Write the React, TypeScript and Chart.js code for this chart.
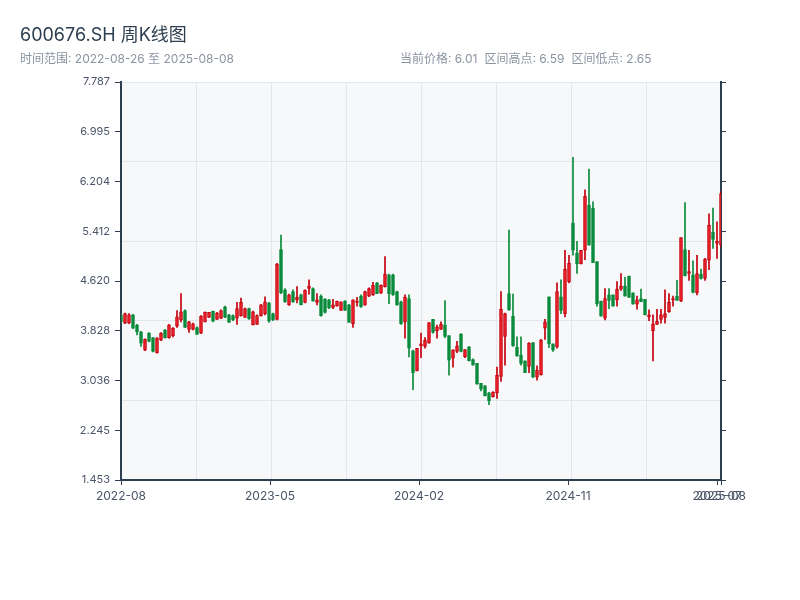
import React, { useEffect, useRef } from 'react';
import { Chart, registerables } from 'chart.js';

Chart.register(...registerables);

// ---- data (weekly candles, 2022-08-26 .. 2025-08-08) ----
const START_DATE = '2022-08-26';
const SKIPPED_WEEKS = ['2022-10-07', '2023-01-27', '2023-10-06', '2024-02-16'];

const OPEN = [
  4.08, 3.95, 3.95, 4.08, 3.92, 3.81, 3.52, 3.79, 3.72, 3.48,
  3.68, 3.84, 3.72, 3.75, 3.90, 4.00, 4.15, 3.85, 3.85, 3.88,
  3.79, 3.97, 4.04, 4.14, 4.01, 4.03, 4.21, 4.08, 4.07, 4.03,
  4.07, 4.04, 4.18, 3.92, 3.93, 4.07, 4.10, 4.27, 4.10, 4.01,
  5.12, 4.48, 4.24, 4.45, 4.32, 4.40, 4.28, 4.50, 4.50, 4.28,
  4.38, 4.33, 4.32, 4.20, 4.22, 4.15, 4.30, 4.24, 3.94, 4.28,
  4.38, 4.24, 4.38, 4.40, 4.59, 4.43, 4.53, 4.72, 4.72, 4.45,
  4.29, 3.97, 4.34, 3.51, 3.19, 3.59, 3.58, 3.63, 4.01, 3.83,
  3.85, 3.92, 3.75, 3.39, 3.50, 3.78, 3.41, 3.57, 3.37, 3.31,
  2.99, 2.95, 2.84, 2.78, 2.84, 3.10, 3.74, 4.42, 4.06, 3.57,
  3.44, 3.35, 3.26, 3.64, 3.09, 3.13, 3.87, 4.37, 3.62, 3.57,
  4.37, 4.10, 4.61, 5.54, 5.06, 4.89, 5.11, 5.83, 5.78, 4.93,
  4.30, 4.03, 4.40, 4.40, 4.32, 4.49, 4.54, 4.70, 4.43, 4.25,
  4.34, 4.33, 4.05, 3.83, 3.93, 4.01, 4.04, 4.13, 4.32, 4.38,
  4.30, 5.12, 4.74, 4.72, 4.43, 4.73, 4.66, 4.95, 5.40, 5.22, 5.19,
];
const CLOSE = [
  3.97, 4.10, 4.08, 3.87, 3.81, 3.63, 3.69, 3.66, 3.50, 3.71,
  3.79, 3.72, 3.92, 3.87, 4.05, 4.13, 3.88, 3.97, 3.94, 3.77,
  4.06, 4.12, 4.12, 3.98, 4.11, 4.15, 4.04, 3.96, 4.00, 4.18,
  4.28, 4.18, 4.02, 4.13, 4.07, 4.24, 4.29, 3.98, 4.00, 4.89,
  4.43, 4.29, 4.40, 4.29, 4.36, 4.24, 4.47, 4.54, 4.30, 4.32,
  4.07, 4.12, 4.19, 4.24, 4.30, 4.29, 4.15, 3.96, 4.32, 4.30,
  4.21, 4.45, 4.50, 4.55, 4.42, 4.55, 4.73, 4.42, 4.40, 4.24,
  3.94, 4.36, 3.55, 3.16, 3.55, 3.62, 3.68, 3.96, 3.80, 3.89,
  3.93, 3.74, 3.36, 3.52, 3.59, 3.50, 3.53, 3.35, 3.28, 2.98,
  2.90, 2.79, 2.71, 2.85, 3.12, 4.17, 4.10, 4.16, 3.59, 3.43,
  3.31, 3.16, 3.63, 3.09, 3.20, 3.68, 3.97, 3.62, 3.52, 4.45,
  4.15, 4.81, 4.90, 5.11, 4.89, 5.11, 5.97, 5.19, 4.91, 4.26,
  4.06, 4.34, 4.31, 4.22, 4.49, 4.54, 4.38, 4.36, 4.25, 4.32,
  4.29, 4.08, 4.08, 3.94, 3.98, 4.08, 4.10, 4.28, 4.34, 4.31,
  5.31, 4.70, 4.77, 4.44, 4.74, 4.66, 4.97, 5.51, 5.28, 5.25, 6.01,
];
const HIGH = [
  4.10, 4.11, 4.10, 4.09, 3.93, 3.82, 3.70, 3.80, 3.72, 3.72,
  3.80, 3.85, 3.93, 3.88, 4.15, 4.42, 4.16, 3.98, 3.95, 3.89,
  4.07, 4.13, 4.12, 4.14, 4.12, 4.16, 4.22, 4.09, 4.08, 4.28,
  4.35, 4.19, 4.19, 4.14, 4.08, 4.25, 4.37, 4.28, 4.11, 4.90,
  5.35, 4.50, 4.41, 4.48, 4.53, 4.41, 4.48, 4.64, 4.51, 4.42,
  4.40, 4.34, 4.33, 4.33, 4.30, 4.29, 4.31, 4.25, 4.32, 4.36,
  4.40, 4.46, 4.51, 4.60, 4.60, 4.56, 5.01, 4.73, 4.73, 4.46,
  4.30, 4.40, 4.40, 3.52, 3.55, 3.79, 3.72, 3.96, 4.01, 3.92,
  3.97, 4.31, 3.75, 3.53, 3.66, 3.78, 3.53, 3.58, 3.38, 3.31,
  2.99, 2.96, 2.85, 2.86, 3.25, 4.45, 4.11, 5.43, 4.41, 3.73,
  3.73, 3.35, 3.64, 3.64, 3.27, 3.69, 4.01, 4.37, 3.62, 4.59,
  4.64, 5.11, 5.03, 6.59, 5.25, 5.11, 6.07, 6.40, 5.88, 4.93,
  4.30, 4.50, 4.50, 4.40, 4.61, 4.74, 4.68, 4.70, 4.43, 4.38,
  4.49, 4.33, 4.16, 4.08, 4.17, 4.17, 4.48, 4.42, 4.38, 4.63,
  5.31, 5.87, 5.11, 4.94, 5.03, 4.81, 4.98, 5.69, 5.78, 5.56, 6.04,
];
const LOW = [
  3.96, 3.94, 3.94, 3.86, 3.76, 3.58, 3.51, 3.65, 3.49, 3.47,
  3.67, 3.71, 3.71, 3.73, 3.88, 3.97, 3.88, 3.80, 3.84, 3.77,
  3.78, 3.97, 4.04, 3.97, 4.01, 4.02, 4.04, 3.96, 3.99, 3.93,
  4.06, 4.04, 4.01, 3.92, 3.93, 4.06, 4.08, 3.96, 3.99, 4.00,
  4.42, 4.28, 4.23, 4.28, 4.27, 4.24, 4.27, 4.41, 4.30, 4.24,
  4.06, 4.11, 4.18, 4.18, 4.22, 4.15, 4.15, 3.96, 3.88, 4.22,
  4.20, 4.23, 4.37, 4.39, 4.42, 4.42, 4.52, 4.26, 4.39, 4.23,
  3.93, 3.71, 3.41, 2.89, 3.19, 3.40, 3.55, 3.63, 3.79, 3.71,
  3.85, 3.72, 3.12, 3.25, 3.48, 3.49, 3.40, 3.35, 3.28, 2.98,
  2.87, 2.79, 2.65, 2.77, 2.75, 3.02, 3.28, 4.15, 3.58, 3.42,
  3.28, 3.16, 3.16, 3.08, 3.04, 3.12, 3.69, 3.56, 3.50, 3.55,
  4.10, 4.05, 4.59, 5.03, 4.74, 4.89, 4.96, 5.19, 4.91, 4.22,
  4.06, 4.00, 4.18, 4.22, 4.22, 4.47, 4.38, 4.36, 4.25, 4.17,
  4.29, 4.08, 3.99, 3.35, 3.93, 3.95, 3.95, 4.12, 4.22, 4.31,
  4.29, 4.70, 4.63, 4.43, 4.40, 4.65, 4.63, 4.80, 5.14, 4.98, 5.16,
];

const Y_MIN = 1.453;
const Y_MAX = 7.787;
const Y_TICKS = [1.453, 2.245, 3.036, 3.828, 4.62, 5.412, 6.204, 6.995, 7.787];
const X_TICK_POS = [0, 37.25, 74.5, 111.75, 149, 150];
const X_TICK_LABELS = ['2022-08', '2023-05', '2024-02', '2024-11', '2025-07', '2025-08'];

const TITLE = '600676.SH 周K线图';
const RANGE_TEXT = '时间范围: 2022-08-26 至 2025-08-08';
const STATS = ['当前价格: 6.01', '区间高点: 6.59', '区间低点: 2.65'];

// ---- styles ----
const FONT = 'Inter, "Noto Sans CJK SC", sans-serif';
const AXIS = '#2c3e50';
const GRID = '#e3e7ec';
const UP_FILL = '#e8222b';
const UP_BORDER = '#c3000c';
const DOWN = '#0a8a3a';

function buildWeeks(): string[] {
  const out: string[] = [];
  const d = new Date(START_DATE + 'T00:00:00Z');
  while (out.length < OPEN.length) {
    const s = d.toISOString().slice(0, 10);
    if (!SKIPPED_WEEKS.includes(s)) out.push(s);
    d.setUTCDate(d.getUTCDate() + 7);
  }
  return out;
}

export default function App() {
  const ref = useRef<HTMLCanvasElement>(null);

  useEffect(() => {
    document.body.style.margin = '0';
    const canvas = ref.current;
    if (!canvas) return;
    const weeks = buildWeeks();
    const up = CLOSE.map((c, i) => c >= OPEN[i]);
    const fill = up.map((u) => (u ? UP_FILL : DOWN));
    const edge = up.map((u) => (u ? UP_BORDER : DOWN));

    const bgPlugin = {
      id: 'plotBg',
      beforeDraw(chart: any) {
        const { ctx, chartArea: a } = chart;
        ctx.save();
        ctx.fillStyle = '#f6f8fa';
        ctx.fillRect(a.left, a.top, a.right - a.left, a.bottom - a.top);
        ctx.restore();
      },
    };

    Chart.defaults.font.family = FONT;

    const chart = new Chart(canvas, {
      type: 'bar',
      data: {
        labels: weeks,
        datasets: [
          {
            label: 'body',
            data: OPEN.map((o, i) => ({ x: i, y: [o, CLOSE[i]] })) as any,
            backgroundColor: fill,
            borderColor: edge,
            borderWidth: 1,
            borderSkipped: false,
            barThickness: 3,
            grouped: false,
            xAxisID: 'x',
            yAxisID: 'y',
          },
          {
            label: 'wick',
            data: LOW.map((l, i) => ({ x: i, y: [l, HIGH[i]] })) as any,
            backgroundColor: edge,
            borderWidth: 0,
            barThickness: 1,
            grouped: false,
            xAxisID: 'x',
            yAxisID: 'y',
          },
        ],
      },
      options: {
        animation: false,
        responsive: false,
        maintainAspectRatio: false,
        layout: { padding: { top: 82, left: 0, right: 0, bottom: 80 } },
        plugins: {
          legend: { display: false },
          tooltip: { enabled: false },
        },
        scales: {
          x: {
            type: 'linear',
            position: 'bottom',
            min: 0,
            max: OPEN.length - 1,
            offset: false,
            afterBuildTicks: (s: any) => {
              s.ticks = X_TICK_POS.map((v) => ({ value: v }));
            },
            afterFit: (s: any) => {
              s.height = 40;
            },
            ticks: {
              autoSkip: false,
              maxRotation: 0,
              padding: 4,
              color: '#4a5568',
              font: { size: 12, family: FONT },
              callback: (_v: any, i: number) => X_TICK_LABELS[i],
            },
            grid: { offset: false, drawOnChartArea: false, drawTicks: true, tickLength: 5, color: AXIS },
            border: { display: true, color: AXIS, width: 2 },
          } as any,
          xGrid: {
            type: 'linear',
            position: 'bottom',
            min: 0,
            max: 8,
            offset: false,
            ticks: { display: false, stepSize: 1 },
            grid: { offset: false, color: GRID, drawTicks: false },
            border: { display: false },
            afterFit: (s: any) => {
              s.height = 0;
            },
          } as any,
          y: {
            type: 'linear',
            position: 'left',
            min: Y_MIN,
            max: Y_MAX,
            afterBuildTicks: (s: any) => {
              s.ticks = Y_TICKS.map((v) => ({ value: v }));
            },
            afterFit: (s: any) => {
              s.width = 121;
            },
            ticks: {
              padding: 5,
              color: '#4a5568',
              font: { size: 11, family: FONT },
              callback: (v: any) => Number(v).toFixed(3),
            },
            grid: { drawOnChartArea: false, drawTicks: true, tickLength: 6, color: AXIS },
            border: { display: true, color: AXIS, width: 2 },
          } as any,
          yGrid: {
            type: 'linear',
            position: 'left',
            min: 0,
            max: 5,
            ticks: { display: false, stepSize: 1 },
            grid: { color: GRID, drawTicks: false },
            border: { display: false },
            afterFit: (s: any) => {
              s.width = 0;
            },
          } as any,
          y2: {
            type: 'linear',
            position: 'right',
            min: Y_MIN,
            max: Y_MAX,
            afterBuildTicks: (s: any) => {
              s.ticks = Y_TICKS.map((v) => ({ value: v }));
            },
            afterFit: (s: any) => {
              s.width = 79;
            },
            ticks: { display: false },
            grid: { drawOnChartArea: false, drawTicks: true, tickLength: 5, color: AXIS },
            border: { display: true, color: AXIS, width: 2 },
          } as any,
        },
      },
      plugins: [bgPlugin],
    });

    return () => chart.destroy();
  }, []);

  return (
    <div
      style={{
        position: 'fixed',
        left: 0,
        top: 0,
        width: 800,
        height: 600,
        background: '#ffffff',
        fontFamily: FONT,
      }}
    >
      <canvas ref={ref} width={800} height={600} style={{ position: 'absolute', left: 0, top: 0 }} />
      <div style={{ position: 'absolute', left: 20, top: 22, fontSize: 18, color: AXIS, lineHeight: '26px' }}>
        {TITLE}
      </div>
      <div style={{ position: 'absolute', left: 20, top: 50, fontSize: 12, color: '#8a94a0', lineHeight: '17px' }}>
        {RANGE_TEXT}
      </div>
      <div style={{ position: 'absolute', left: 400, top: 50, fontSize: 12, color: '#8a94a0', lineHeight: '17px', whiteSpace: 'nowrap' }}>
        {STATS.map((s, i) => (
          <span key={i} style={{ marginRight: 7 }}>
            {s}
          </span>
        ))}
      </div>
    </div>
  );
}
